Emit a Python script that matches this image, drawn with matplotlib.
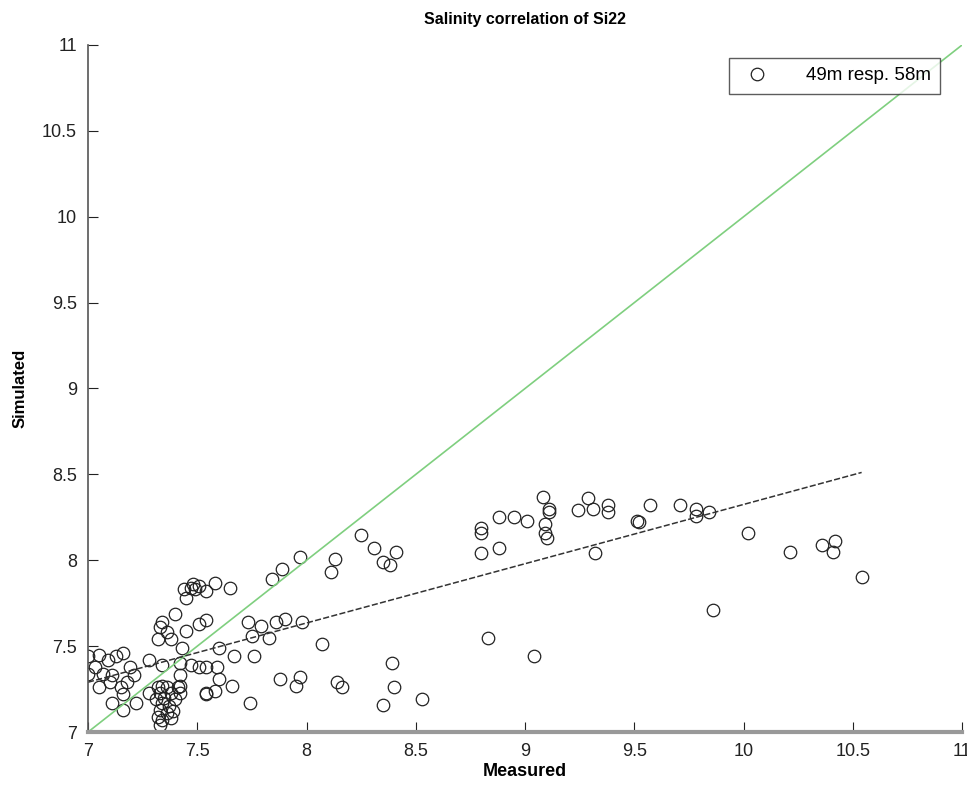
import numpy as np
import matplotlib
matplotlib.use("Agg")
import matplotlib.pyplot as plt

plt.rcParams['font.family'] = ['Liberation Sans Narrow', 'Liberation Sans', 'DejaVu Sans']

# measured vs simulated salinity, station Si22
measured = [
    8.80, 8.80, 8.80, 8.88, 8.88, 8.95, 9.01, 9.08, 9.11, 9.11,
    9.09, 9.09, 9.10, 9.24, 9.29, 9.31, 9.38, 9.38, 9.51, 9.52,
    9.57, 9.71, 9.78, 9.78, 9.84, 9.32, 10.02, 10.21, 10.36, 10.42,
    10.41, 10.54, 9.86, 9.04, 8.83,
    8.25, 8.31, 8.41, 8.35, 8.38, 8.13, 8.11, 7.97, 7.89, 7.84,
    8.07, 8.39, 8.40, 8.35, 8.53, 8.14, 8.16, 7.88, 7.95, 7.97,
    7.86, 7.90, 7.98,
    7.44, 7.47, 7.49, 7.51, 7.54, 7.48, 7.58, 7.65, 7.45, 7.40,
    7.34, 7.33, 7.36, 7.54, 7.51, 7.45, 7.73, 7.79, 7.75, 7.83,
    7.32, 7.38, 7.43, 7.60, 7.67, 7.76, 7.00, 7.05, 7.09, 7.13,
    7.16, 7.00, 7.03, 7.07, 7.11, 7.19, 7.21, 7.28, 7.34, 7.42,
    7.47, 7.51, 7.54, 7.59, 7.60, 7.66, 7.58, 7.54, 7.42, 7.42,
    7.05, 7.10, 7.15, 7.18, 7.16, 7.11, 7.16, 7.28, 7.22, 7.54,
    7.74,
    7.32, 7.34, 7.36, 7.33, 7.35, 7.38, 7.31, 7.34, 7.37, 7.33,
    7.36, 7.39, 7.32, 7.34, 7.38, 7.33, 7.40, 7.41, 7.42,
]
simulated = [
    8.19, 8.16, 8.04, 8.25, 8.07, 8.25, 8.23, 8.37, 8.30, 8.28,
    8.21, 8.16, 8.13, 8.29, 8.36, 8.30, 8.32, 8.28, 8.23, 8.22,
    8.32, 8.32, 8.30, 8.26, 8.28, 8.04, 8.16, 8.05, 8.09, 8.11,
    8.05, 7.90, 7.71, 7.44, 7.55,
    8.15, 8.07, 8.05, 7.99, 7.97, 8.01, 7.93, 8.02, 7.95, 7.89,
    7.51, 7.40, 7.26, 7.16, 7.19, 7.29, 7.26, 7.31, 7.27, 7.32,
    7.64, 7.66, 7.64,
    7.83, 7.84, 7.83, 7.85, 7.82, 7.86, 7.87, 7.84, 7.78, 7.69,
    7.64, 7.61, 7.58, 7.65, 7.63, 7.59, 7.64, 7.62, 7.56, 7.55,
    7.54, 7.54, 7.49, 7.49, 7.44, 7.44, 7.44, 7.45, 7.42, 7.44,
    7.46, 7.34, 7.38, 7.34, 7.33, 7.38, 7.33, 7.42, 7.39, 7.40,
    7.39, 7.38, 7.38, 7.38, 7.31, 7.27, 7.24, 7.23, 7.33, 7.27,
    7.26, 7.29, 7.26, 7.29, 7.22, 7.17, 7.13, 7.23, 7.17, 7.22,
    7.17,
    7.26, 7.27, 7.26, 7.23, 7.20, 7.23, 7.19, 7.17, 7.15, 7.13,
    7.11, 7.12, 7.09, 7.07, 7.08, 7.04, 7.19, 7.26, 7.23,
]

# linear fit of simulated on measured
fit_slope = 0.345
fit_intercept = 4.875

ticks = [7, 7.5, 8, 8.5, 9, 9.5, 10, 10.5, 11]
tick_labels = ['7', '7.5', '8', '8.5', '9', '9.5', '10', '10.5', '11']

fig = plt.figure(figsize=(9.67, 7.88), dpi=100)
ax = fig.add_axes([0.091, 0.071, 0.904, 0.872])

ax.plot(measured, simulated, 'o', mfc='none', mec='#222222', ms=9, mew=0.9,
        label='49m resp. 58m')

# 1:1 reference line
ax.plot([7, 11], [7, 11], color='#7fcf7f', lw=1.2)

xf = np.array([min(measured), max(measured)])
ax.plot(xf, fit_slope * xf + fit_intercept, '--', color='#333333', lw=1.1,
        dashes=(4, 1.5))

ax.set_xlim(7, 11)
ax.set_ylim(7, 11)
ax.set_xticks(ticks)
ax.set_xticklabels(tick_labels)
ax.set_yticks(ticks)
ax.set_yticklabels(tick_labels)
ax.tick_params(direction='in', length=7, labelsize=13, colors='#222222', pad=8)

ax.spines['top'].set_visible(False)
ax.spines['right'].set_visible(False)
ax.spines['bottom'].set_color('#999999')
ax.spines['bottom'].set_linewidth(3)
ax.spines['left'].set_color('#555555')
ax.spines['left'].set_linewidth(1.2)

ax.set_title('Salinity correlation of Si22', fontsize=11.5, fontweight='bold', pad=15)
ax.set_xlabel('Measured', fontsize=13, fontweight='bold', labelpad=2)
ax.set_ylabel('Simulated', fontsize=12, fontweight='bold', labelpad=10)

leg = ax.legend(loc='upper right', bbox_to_anchor=(0.975, 0.981), borderaxespad=0,
                fancybox=False, edgecolor='#333333', fontsize=13.5,
                handletextpad=1.6, borderpad=0.5)
leg.get_frame().set_linewidth(1.0)

fig.savefig('out.png', dpi=100, facecolor='white')
